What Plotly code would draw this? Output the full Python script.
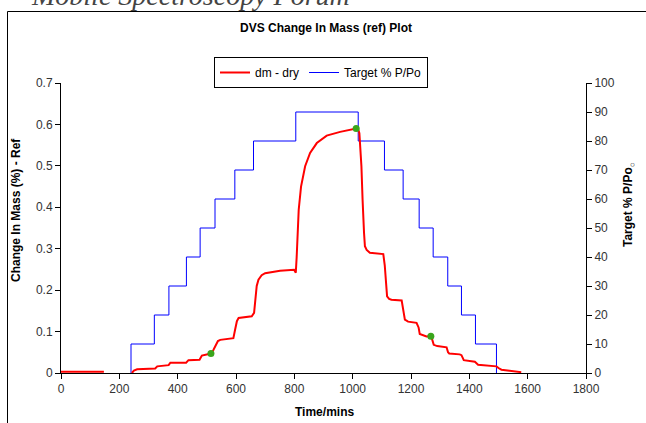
import plotly.graph_objects as go

# ---- data ----
red_t = [0, 147, None,
         243, 250, 261, 323, 330, 369, 375, 419, 429, 437, 475, 483, 500, 514, 522, 529,
         538, 546, 591, 597, 603, 609, 654, 662, 666, 671, 677, 688, 700, 751, 799, 805,
         808, 810, 815, 823, 837, 854, 877, 911, 957, 1012, 1019, 1023, 1027, 1030, 1034,
         1036, 1039, 1042, 1048, 1059, 1105, 1110, 1114, 1118, 1125, 1133, 1168, 1172,
         1179, 1190, 1219, 1226, 1230, 1253, 1268, 1273, 1278, 1290, 1316, 1322, 1327,
         1331, 1367, 1373, 1381, 1419, 1430, 1493, 1500, 1510, 1538, 1560, 1578]
red_v = [0.003, 0.003, None,
         0.0, 0.006, 0.009, 0.011, 0.016, 0.019, 0.025, 0.024, 0.025, 0.031, 0.032, 0.042,
         0.045, 0.047, 0.055, 0.066, 0.077, 0.080, 0.084, 0.105, 0.125, 0.133, 0.137,
         0.145, 0.185, 0.210, 0.225, 0.236, 0.241, 0.247, 0.249, 0.242, 0.280, 0.322,
         0.394, 0.450, 0.499, 0.531, 0.555, 0.573, 0.582, 0.590, 0.588, 0.579, 0.540,
         0.499, 0.418, 0.370, 0.338, 0.306, 0.297, 0.290, 0.287, 0.260, 0.225, 0.185,
         0.179, 0.177, 0.175, 0.160, 0.129, 0.124, 0.121, 0.110, 0.094, 0.088, 0.089,
         0.080, 0.068, 0.065, 0.064, 0.062, 0.050, 0.047, 0.045, 0.043, 0.031, 0.027,
         0.020, 0.016, 0.012, 0.008, 0.0055, 0.004, 0.002]

blue_t = [240, 240, 320, 370, 430, 477, 528, 596, 660, 805, 1019, 1109, 1173, 1228,
          1276, 1326, 1373, 1421, 1493]
blue_v = [0, 10, 20, 30, 40, 50, 60, 70, 80, 90, 80, 70, 60, 50, 40, 30, 20, 10, 0]

green_t = [224, 514, 1012, 1268]
green_v = [-0.002, 0.047, 0.590, 0.089]

x_ticks = [0, 200, 400, 600, 800, 1000, 1200, 1400, 1600, 1800]
y_ticks = [0, 0.1, 0.2, 0.3, 0.4, 0.5, 0.6, 0.7]
y_labels = ["0", "0.1", "0.2", "0.3", "0.4", "0.5", "0.6", "0.7"]
y2_ticks = [0, 10, 20, 30, 40, 50, 60, 70, 80, 90, 100]

FONT = "Liberation Sans, Arial, sans-serif"
W, H = 646, 423
L, R, T, B = 61, 60, 83, 50
PW, PH = W - L - R, H - T - B


def px_x(p):
    return (p - L) / PW


def px_y(p):
    return (H - B - p) / PH


fig = go.Figure()
fig.add_trace(go.Scatter(x=red_t, y=red_v, mode="lines", name="dm - dry",
                         line=dict(color="#ff0000", width=2), yaxis="y2",
                         connectgaps=False))
fig.add_trace(go.Scatter(x=blue_t, y=blue_v, mode="lines", name="Target % P/Po",
                         line=dict(color="#0000ff", width=1, shape="hv"), yaxis="y"))
fig.add_trace(go.Scatter(x=green_t, y=green_v, mode="markers", showlegend=False,
                         marker=dict(color="#3aa51c", size=7), yaxis="y2",
                         cliponaxis=False))

axis_common = dict(showgrid=False, zeroline=False, showline=True, linecolor="black",
                   linewidth=1, ticks="outside", ticklen=5, tickcolor="black",
                   automargin=False,
                   tickfont=dict(family=FONT, size=12, color="#333333"))

fig.update_layout(
    width=W, height=H,
    margin=dict(l=L, r=R, t=T, b=B, autoexpand=False),
    paper_bgcolor="white", plot_bgcolor="white",
    font=dict(family=FONT, size=12, color="black"),
    xaxis=dict(range=[0, 1800], tickvals=x_ticks, **axis_common),
    yaxis=dict(range=[0, 100], tickvals=y2_ticks, side="right", **axis_common),
    yaxis2=dict(range=[0, 0.7], tickvals=y_ticks, ticktext=y_labels, side="left",
                overlaying="y", **axis_common),
    showlegend=True,
    legend=dict(orientation="h", x=px_x(321), xanchor="center", y=px_y(57), yanchor="top",
                bordercolor="black", borderwidth=1, bgcolor="white",
                font=dict(family=FONT, size=12, color="black"),
                itemwidth=30, tracegroupgap=0),
)

ann = [
    dict(text="<b>DVS Change In Mass (ref) Plot</b>", x=px_x(326), y=px_y(28),
         font=dict(size=12)),
    dict(text="<b>Time/mins</b>", x=px_x(324), y=px_y(412), font=dict(size=12)),
    dict(text="<b>Change In Mass (%) - Ref</b>", x=px_x(16), y=px_y(210),
         textangle=-90, font=dict(size=12)),
    dict(text="<b>Target % P/Po</b><sub>○</sub>", x=px_x(629), y=px_y(205),
         textangle=-90, font=dict(size=12)),
    dict(text="<i>Mobile Spectroscopy Forum</i>", x=px_x(190), y=px_y(-4), yanchor="middle",
         font=dict(family="Liberation Serif, serif", size=28, color="#444444"),
         xanchor="center"),
]
for a in ann:
    a.setdefault("xanchor", "center")
    a.setdefault("yanchor", "middle")
    a.update(xref="paper", yref="paper", showarrow=False)
    fig.add_annotation(**a)

# chart-area border (extends past the right and bottom edges of the picture)
fig.add_shape(type="rect", xref="paper", yref="paper",
              x0=px_x(7.5), x1=px_x(660), y0=px_y(440), y1=px_y(11.5),
              line=dict(color="black", width=1), layer="below")

fig.write_html("out.html", config={"displayModeBar": False},
               post_script="document.body.style.margin='0';document.body.style.overflow='hidden';")
